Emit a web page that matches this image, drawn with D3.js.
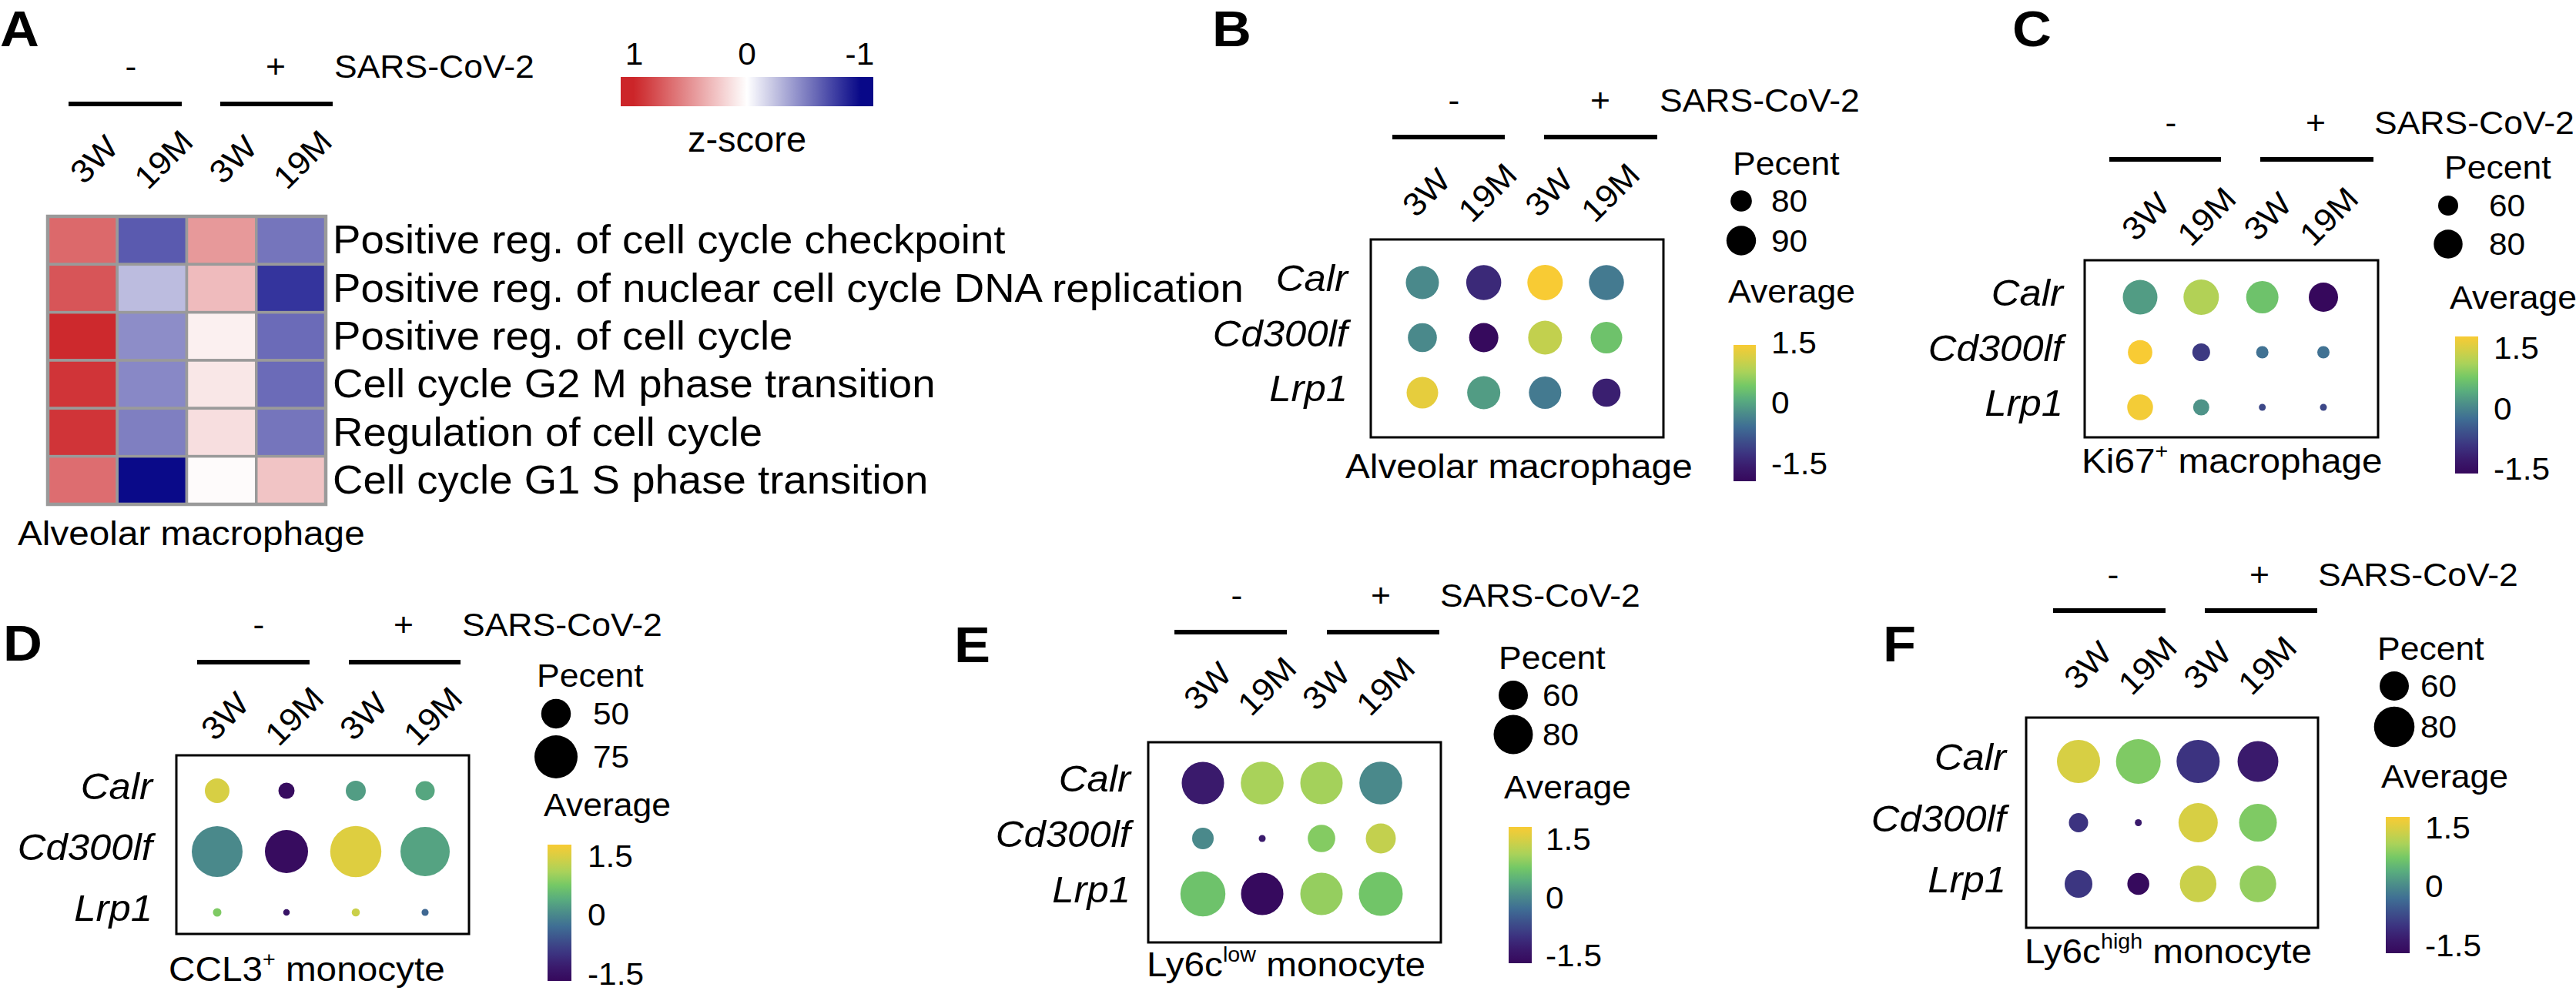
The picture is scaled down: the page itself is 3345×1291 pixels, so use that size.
<!DOCTYPE html>
<html><head><meta charset="utf-8">
<script src="https://cdn.jsdelivr.net/npm/d3@7"></script>
<style>
body{margin:0;background:#fff;}
svg{display:block;}
text{font-family:"Liberation Sans",Arial,Helvetica,sans-serif;fill:#000;}
</style>
</head><body>
<svg id="fig" width="3345" height="1291"></svg>
<script>
// ---------------- DATA ----------------
const conditions = ["neg_3W", "neg_19M", "pos_3W", "pos_19M"];
const ageLabels = ["3W", "19M", "3W", "19M"];
const infectionLabels = ["-", "+"];
const virusLabel = "SARS-CoV-2";

// Panel A heatmap
const pathways = [
  "Positive reg. of cell cycle checkpoint",
  "Positive reg. of nuclear cell cycle DNA replication",
  "Positive reg. of cell cycle",
  "Cell cycle G2 M phase transition",
  "Regulation of cell cycle",
  "Cell cycle G1 S phase transition"
];
const heatZ = [
  [0.69, -0.67, 0.47, -0.56],
  [0.78, -0.27, 0.31, -0.82],
  [0.98, -0.46, 0.07, -0.60],
  [0.93, -0.48, 0.11, -0.60],
  [0.93, -0.52, 0.15, -0.56],
  [0.67, -0.99, 0.02, 0.27]
];
const heatTicks = [1, 0, -1];
const heatLegendTitle = "z-score";
const heatCellType = "Alveolar macrophage";

// Dot plots
const genes = ["Calr", "Cd300lf", "Lrp1"];
const avgTicks = [1.5, 0, -1.5];
const pctTitle = "Pecent";
const avgTitle = "Average";

const avgB = [[-0.28, -1.41, 1.45, -0.45], [-0.28, -1.92, 0.97, 0.36], [1.28, -0.08, -0.45, -1.54]];
const pctB = [[94.3, 96.6, 97.1, 96.6], [89.3, 89.6, 95.2, 92.4], [92.4, 94.3, 93.4, 88.3]];
const pctLegendB = [80, 90];

const avgC = [[0.26, 1.18, 0.70, -1.61], [1.79, -0.86, -0.20, -0.20], [1.74, 0.16, -0.68, -0.68]];
const pctC = [[93.0, 94.8, 87.8, 80.9], [69.9, 54.8, 42.6, 42.6], [73.0, 51.3, 30.4, 30.4]];
const pctLegendC = [60, 80];

const avgD = [[1.48, -1.61, 0.23, 0.33], [0.02, -1.61, 1.55, 0.30], [0.82, -1.47, 1.37, -0.36]];
const pctD = [[40.7, 25.0, 32.1, 30.7], [89.3, 75.0, 90.0, 86.4], [10.7, 7.1, 10.1, 8.1]];
const pctLegendD = [50, 75];

const avgE = [[-1.35, 1.12, 1.08, 0.02], [0.02, -1.35, 0.87, 1.33], [0.69, -1.66, 0.98, 0.73]];
const pctE = [[86.2, 87.2, 86.2, 87.2], [44.6, 15.4, 56.5, 61.5], [91.5, 86.2, 86.2, 89.2]];
const pctLegendE = [60, 80];

const avgF = [[1.46, 0.80, -1.01, -1.35], [-1.01, -1.35, 1.46, 0.80], [-0.97, -1.67, 1.35, 0.94]];
const pctF = [[84.7, 87.4, 84.7, 80.5], [42.2, 20.3, 77.8, 75.1], [57.3, 47.0, 73.0, 73.0]];
const pctLegendF = [60, 80];

// ---------------- STYLE / LAYOUT ----------------
const K = 1.06; // horizontal glyph stretch
const paletteStops = ["#36085c", "#3a1a6c", "#3c3380", "#3d508b", "#3f6e94", "#4b8c8a",
                      "#59ad7e", "#74c866", "#a9d25a", "#d3cf46", "#f8cb34"];
const palette = d3.piecewise(d3.interpolateRgb, paletteStops);

const svg = d3.select("#fig");
const defs = svg.append("defs");

function label(g, x, y, segs, size, o = {}) {
  if (typeof segs === "string") segs = [{t: segs}];
  let tr = `translate(${x},${y})`;
  if (o.rotate) tr += ` rotate(${o.rotate})`;
  tr += ` scale(${o.k ?? K},1)`;
  const t = g.append("text").attr("transform", tr)
    .attr("font-size", size)
    .attr("text-anchor", o.anchor || "start")
    .attr("font-style", o.italic ? "italic" : "normal")
    .attr("font-weight", o.bold ? "bold" : "normal");
  if (o.baseline) t.attr("dominant-baseline", o.baseline);
  let shifted = false;
  segs.forEach(s => {
    const ts = t.append("tspan").text(s.t);
    if (s.sup) {
      ts.attr("font-size", size * 0.6).attr("dy", -size * 0.42);
      shifted = true;
    } else if (shifted) {
      ts.attr("dy", size * 0.42);
      shifted = false;
    }
  });
  return t;
}

function panelLetter(g, pos, ch) {
  label(g, pos[0], pos[1], ch, 64, {bold: true, k: 1.1});
}

function header(g, cfg) {
  label(g, cfg.minusX, cfg.headY, infectionLabels[0], 42, {anchor: "middle"});
  label(g, cfg.plusX, cfg.headY, infectionLabels[1], 42, {anchor: "middle"});
  label(g, cfg.virusX, cfg.headY, virusLabel, 42);
  cfg.lines.forEach(l => g.append("line")
    .attr("x1", l[0]).attr("x2", l[1]).attr("y1", cfg.lineY).attr("y2", cfg.lineY)
    .attr("stroke", "#000").attr("stroke-width", 6));
}

// ---------------- PANEL A ----------------
(function panelA() {
  const cfg = {letter: [0, 60], minusX: 170, plusX: 358, headY: 101, virusX: 434,
    lines: [[89, 236], [286, 432]], lineY: 135, heat: [62, 281, 423, 655],
    colLabelY: 207, colLabelDx: 15, rowLabelX: 432,
    bar: [806, 100, 1134, 138], barDomain: [1.12, -1.12], tickY: 84};
  const g = svg.append("g");
  panelLetter(g, cfg.letter, "A");
  header(g, cfg);
  const x = d3.scaleBand().domain(conditions).range([cfg.heat[0], cfg.heat[2]]);
  const y = d3.scaleBand().domain(pathways).range([cfg.heat[1], cfg.heat[3]]);
  const color = d3.scaleLinear().domain([-1, 0, 1]).range(["#080888", "#ffffff", "#cc2529"]).clamp(true);
  const cells = pathways.flatMap((p, i) => conditions.map((c, j) => ({p, c, v: heatZ[i][j]})));
  g.selectAll("rect.cell").data(cells).join("rect").attr("class", "cell")
    .attr("x", d => x(d.c)).attr("y", d => y(d.p))
    .attr("width", x.bandwidth()).attr("height", y.bandwidth())
    .attr("fill", d => color(d.v)).attr("stroke", "#9a9a9a").attr("stroke-width", 3.5);
  g.append("rect").attr("x", cfg.heat[0]).attr("y", cfg.heat[1])
    .attr("width", cfg.heat[2] - cfg.heat[0]).attr("height", cfg.heat[3] - cfg.heat[1])
    .attr("fill", "none").attr("stroke", "#9a9a9a").attr("stroke-width", 4.5);
  conditions.forEach((c, j) => label(g, x(c) + x.bandwidth() / 2 + cfg.colLabelDx, cfg.colLabelY,
    ageLabels[j], 42, {rotate: -45, anchor: "middle", baseline: "central"}));
  pathways.forEach(p => label(g, cfg.rowLabelX, y(p) + y.bandwidth() / 2 + 17, p, 51.5));
  label(g, 23, 708, heatCellType, 45);
  // colour bar
  const bx = d3.scaleLinear().domain(cfg.barDomain).range([cfg.bar[0], cfg.bar[2]]);
  const grad = defs.append("linearGradient").attr("id", "gradA").attr("x1", 0).attr("x2", 1).attr("y1", 0).attr("y2", 0);
  d3.range(0, 1.0001, 0.05).forEach(t => grad.append("stop").attr("offset", t)
    .attr("stop-color", color(bx.invert(cfg.bar[0] + t * (cfg.bar[2] - cfg.bar[0])))));
  g.append("rect").attr("x", cfg.bar[0]).attr("y", cfg.bar[1])
    .attr("width", cfg.bar[2] - cfg.bar[0]).attr("height", cfg.bar[3] - cfg.bar[1]).attr("fill", "url(#gradA)");
  heatTicks.forEach(v => label(g, bx(v), cfg.tickY, String(v), 40, {anchor: "middle"}));
  label(g, bx(0), 197, heatLegendTitle, 47, {anchor: "middle", k: 1});
})();

// ---------------- DOT PANELS ----------------
function dotPanel(id, cfg, avg, pct, pctLegend) {
  const g = svg.append("g");
  panelLetter(g, cfg.letter, id);
  header(g, cfg);
  const x = d3.scalePoint().domain(conditions).range(cfg.colRange);
  const y = d3.scalePoint().domain(genes).range(cfg.rowRange);
  const r = d3.scaleLinear().domain(pctLegend).range(cfg.legR);
  const c = d3.scaleSequential(palette).domain(cfg.avgDomain).clamp(true);
  const b = cfg.box;
  g.append("rect").attr("x", b[0]).attr("y", b[1]).attr("width", b[2] - b[0]).attr("height", b[3] - b[1])
    .attr("fill", "none").attr("stroke", "#000").attr("stroke-width", 3);
  const cells = genes.flatMap((gn, i) => conditions.map((cn, j) => ({gn, cn, a: avg[i][j], p: pct[i][j]})));
  g.selectAll("circle.dot").data(cells).join("circle").attr("class", "dot")
    .attr("cx", d => x(d.cn)).attr("cy", d => y(d.gn)).attr("r", d => r(d.p)).attr("fill", d => c(d.a));
  genes.forEach(gn => label(g, cfg.geneX, y(gn) + 11, gn, 48, {anchor: "end", italic: true}));
  conditions.forEach((cn, j) => label(g, x(cn) + cfg.colLabelDx, cfg.colLabelY, ageLabels[j], 42,
    {rotate: -45, anchor: "middle", baseline: "central"}));
  label(g, cfg.titleX, cfg.titleY, cfg.title, 45);
  // size legend
  label(g, cfg.pecentX, cfg.pecentY, pctTitle, 42);
  pctLegend.forEach((p, i) => {
    g.append("circle").attr("cx", cfg.legDotX).attr("cy", cfg.legDotY[i]).attr("r", r(p)).attr("fill", "#000");
    label(g, cfg.legTextX, cfg.legDotY[i] + 14, String(p), 40);
  });
  // colour legend
  label(g, cfg.avgX, cfg.avgY, avgTitle, 42);
  const bar = cfg.bar;
  const by = d3.scaleLinear().domain(cfg.avgDomain).range([bar[3], bar[1]]);
  const gid = "grad" + id;
  const grad = defs.append("linearGradient").attr("id", gid).attr("x1", 0).attr("x2", 0).attr("y1", 1).attr("y2", 0);
  d3.range(0, 1.0001, 0.05).forEach(t => grad.append("stop").attr("offset", t)
    .attr("stop-color", c(by.invert(bar[3] - t * (bar[3] - bar[1])))));
  g.append("rect").attr("x", bar[0]).attr("y", bar[1]).attr("width", bar[2] - bar[0])
    .attr("height", bar[3] - bar[1]).attr("fill", `url(#${gid})`);
  avgTicks.forEach(v => label(g, cfg.tickX, by(v) + 14, String(v), 40));
}

dotPanel("B", {letter: [1574, 60], box: [1780, 311, 2160, 568], colRange: [1847, 2086], rowRange: [367, 510],
  geneX: 1750, colLabelY: 250, colLabelDx: 5, minusX: 1888, plusX: 2078, headY: 145, virusX: 2155,
  lines: [[1808, 1954], [2005, 2152]], lineY: 178, pecentX: 2250, pecentY: 227, legDotX: 2261,
  legDotY: [261, 312.5], legR: [13.85, 19.2], legTextX: 2300, avgX: 2244, avgY: 393,
  bar: [2251, 448, 2280, 625], avgDomain: [-1.95, 1.45], tickX: 2300,
  title: [{t: "Alveolar macrophage"}], titleX: 1747, titleY: 621}, avgB, pctB, pctLegendB);

dotPanel("C", {letter: [2613, 60], box: [2707, 338, 3088, 568], colRange: [2779, 3017], rowRange: [386, 529],
  geneX: 2679, colLabelY: 281, colLabelDx: 7, minusX: 2819, plusX: 3007, headY: 174, virusX: 3083,
  lines: [[2739, 2884], [2935, 3082]], lineY: 207, pecentX: 3174, pecentY: 232, legDotX: 3179,
  legDotY: [267, 317], legR: [13, 18.75], legTextX: 3232, avgX: 3181, avgY: 401,
  bar: [3188, 437, 3218, 615], avgDomain: [-1.61, 1.79], tickX: 3238,
  title: [{t: "Ki67"}, {t: "+", sup: true}, {t: " macrophage"}], titleX: 2703, titleY: 614}, avgC, pctC, pctLegendC);

dotPanel("D", {letter: [4, 858], box: [229, 981, 609, 1213], colRange: [282, 552], rowRange: [1027, 1185],
  geneX: 198, colLabelY: 930, colLabelDx: 10, minusX: 336, plusX: 524, headY: 826, virusX: 600,
  lines: [[256, 402], [453, 598]], lineY: 860, pecentX: 697, pecentY: 892, legDotX: 722,
  legDotY: [927, 983], legR: [19.25, 28], legTextX: 770, avgX: 706, avgY: 1060,
  bar: [711, 1097, 742, 1274], avgDomain: [-1.68, 1.79], tickX: 763,
  title: [{t: "CCL3"}, {t: "+", sup: true}, {t: " monocyte"}], titleX: 219, titleY: 1274}, avgD, pctD, pctLegendD);

dotPanel("E", {letter: [1239, 860], box: [1491, 964, 1871, 1224], colRange: [1562, 1793], rowRange: [1017, 1161],
  geneX: 1468, colLabelY: 891, colLabelDx: 6, minusX: 1606, plusX: 1793, headY: 788, virusX: 1870,
  lines: [[1525, 1671], [1723, 1869]], lineY: 821, pecentX: 1946, pecentY: 869, legDotX: 1965,
  legDotY: [903, 954], legR: [19, 25.5], legTextX: 2003, avgX: 1953, avgY: 1037,
  bar: [1959, 1074, 1989, 1251], avgDomain: [-1.70, 1.82], tickX: 2007,
  title: [{t: "Ly6c"}, {t: "low", sup: true}, {t: " monocyte"}], titleX: 1489, titleY: 1268}, avgE, pctE, pctLegendE);

dotPanel("F", {letter: [2445, 859], box: [2631, 932, 3010, 1205], colRange: [2699, 2932], rowRange: [989, 1148],
  geneX: 2605, colLabelY: 864, colLabelDx: 12, minusX: 2744, plusX: 2934, headY: 761, virusX: 3010,
  lines: [[2666, 2812], [2863, 3009]], lineY: 793, pecentX: 3087, pecentY: 857, legDotX: 3109,
  legDotY: [891, 944], legR: [19, 26.3], legTextX: 3143, avgX: 3092, avgY: 1023,
  bar: [3098, 1061, 3129, 1238], avgDomain: [-1.70, 1.77], tickX: 3149,
  title: [{t: "Ly6c"}, {t: "high", sup: true}, {t: " monocyte"}], titleX: 2629, titleY: 1251}, avgF, pctF, pctLegendF);
</script>
</body></html>
